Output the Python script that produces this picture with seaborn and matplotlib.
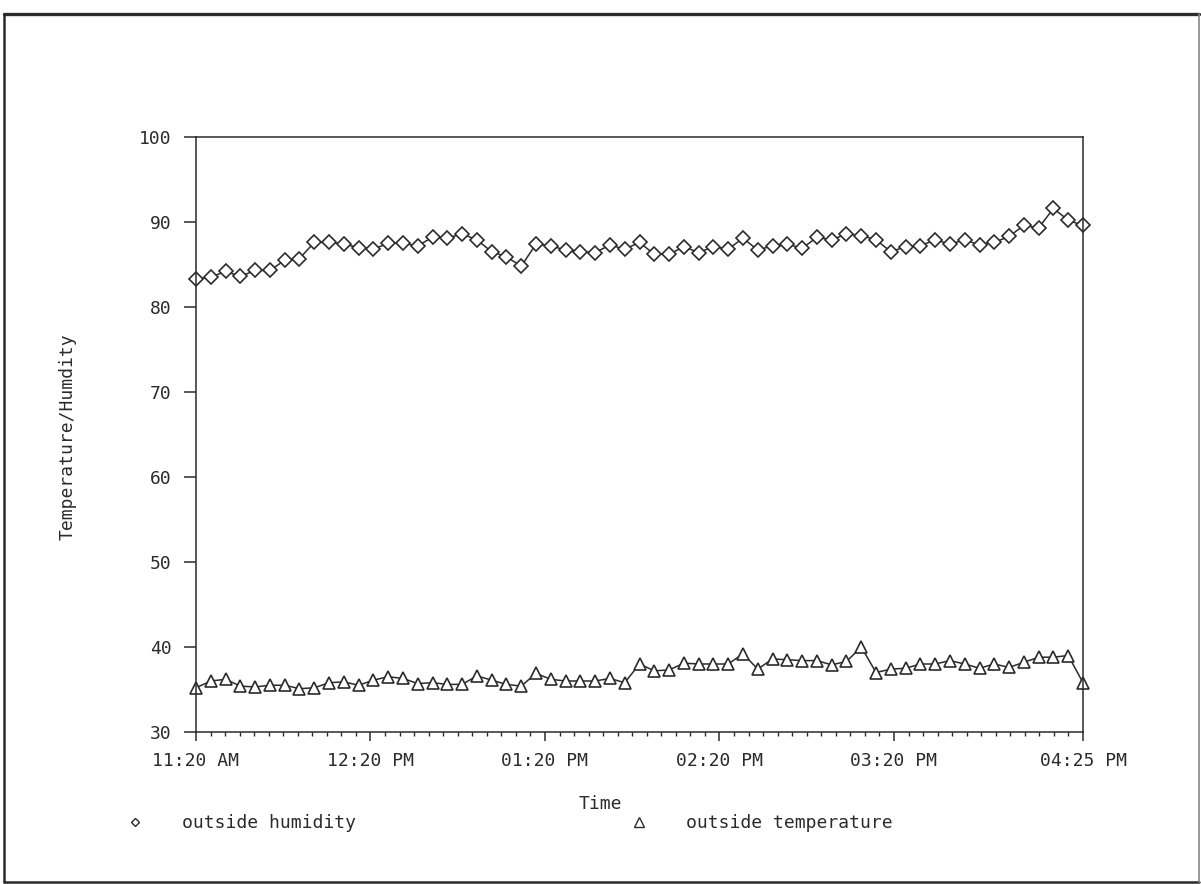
"""
plot.py
Outside humidity / temperature log, 11:20 AM - 04:25 PM.
"""

import matplotlib
matplotlib.use("Agg")
import numpy as np
import pandas as pd
import matplotlib.pyplot as plt
import seaborn as sns
from matplotlib.lines import Line2D
from matplotlib.ticker import FixedLocator

# ── Data ─────────────────────────────────────────────────────────────────────

humidity = [
    83.3, 83.5, 84.2, 83.6, 84.3, 84.3, 85.5, 85.7, 87.6, 87.6,
    87.4, 87.0, 86.8, 87.5, 87.5, 87.2, 88.2, 88.1, 88.6, 87.9,
    86.5, 85.9, 84.8, 87.4, 87.2, 86.7, 86.5, 86.4, 87.3, 86.8,
    87.6, 86.2, 86.2, 87.1, 86.4, 87.1, 86.8, 88.1, 86.7, 87.2,
    87.4, 86.9, 88.2, 87.9, 88.6, 88.4, 87.9, 86.5, 87.1, 87.2,
    87.9, 87.4, 87.9, 87.3, 87.6, 88.3, 89.6, 89.3, 91.6, 90.2, 89.6,
]

temperature = [
    35.2, 36.0, 36.2, 35.4, 35.3, 35.5, 35.5, 35.1, 35.2, 35.8,
    35.9, 35.5, 36.1, 36.5, 36.3, 35.7, 35.8, 35.6, 35.6, 36.6,
    36.1, 35.6, 35.4, 36.9, 36.2, 36.0, 36.0, 36.0, 36.3, 35.8,
    38.0, 37.2, 37.3, 38.1, 38.0, 38.0, 38.0, 39.2, 37.4, 38.6,
    38.5, 38.4, 38.4, 37.9, 38.3, 40.0, 37.0, 37.4, 37.5, 38.0,
    38.0, 38.4, 38.0, 37.5, 38.0, 37.6, 38.2, 38.8, 38.8, 39.0, 35.8,
]

series_names = ["outside humidity", "outside temperature"]

# time axis: minutes after 11:20 AM
span_minutes = 305
tick_minutes = [0, 60, 120, 180, 240, 305]
tick_labels = ["11:20 AM", "12:20 PM", "01:20 PM", "02:20 PM", "03:20 PM", "04:25 PM"]
minor_step = 5

y_ticks = [30, 40, 50, 60, 70, 80, 90, 100]

# ── Frame ────────────────────────────────────────────────────────────────────

n = len(humidity)
df = pd.DataFrame({
    "reading": list(range(n)) * 2,
    "value": humidity + temperature,
    "series": [series_names[0]] * n + [series_names[1]] * n,
})

INK = "#2b2b2b"
W, H = 1201, 884

sns.set_style("white")
plt.rcParams["font.family"] = ["DejaVu Sans Mono", "DejaVu Sans"]
plt.rcParams["text.color"] = INK
plt.rcParams["axes.labelcolor"] = INK

fig = plt.figure(figsize=(W / 100, H / 100), dpi=100)
left, right, top, bottom = 196, 1083, 137, 732
ax = fig.add_axes([left / W, 1 - bottom / H, (right - left) / W, (bottom - top) / H])

sns.lineplot(
    data=df, x="reading", y="value",
    hue="series", style="series",
    palette={s: INK for s in series_names},
    markers={series_names[0]: "D", series_names[1]: "^"},
    dashes=False, linewidth=1.1, legend=False, ax=ax,
)

for line, ms in zip(ax.lines, [7.2, 9.2]):
    line.set_markersize(ms)
    line.set_markerfacecolor("white")
    line.set_markeredgecolor(INK)
    line.set_markeredgewidth(1.2)
    line.set_clip_on(False)

# ── Axes ─────────────────────────────────────────────────────────────────────

to_reading = (n - 1) / span_minutes
ax.set_xlim(0, n - 1)
ax.set_ylim(30, 100)
ax.set_yticks(y_ticks)
ax.xaxis.set_major_locator(FixedLocator([m * to_reading for m in tick_minutes]))
ax.xaxis.set_minor_locator(FixedLocator(
    [m * to_reading for m in range(0, span_minutes + 1, minor_step)]))
ax.set_xticklabels(tick_labels)

ax.tick_params(axis="y", direction="out", length=8.5, width=1.1, pad=9,
               labelsize=13, colors=INK, left=True)
ax.tick_params(axis="x", which="major", direction="out", length=6.5, width=1.1,
               pad=8, labelsize=13, colors=INK, bottom=True)
ax.tick_params(axis="x", which="minor", direction="out", length=3, width=1.0,
               colors=INK, bottom=True)

for sp in ax.spines.values():
    sp.set_color(INK)
    sp.set_linewidth(1.1)

ax.set_xlabel("Time", fontsize=13)
ax.set_ylabel("Temperature/Humdity", fontsize=13)
ax.xaxis.set_label_coords((600 - left) / (right - left), (bottom - 795) / (bottom - top))
ax.yaxis.set_label_coords((68 - left) / (right - left), (bottom - 437) / (bottom - top))
ax.yaxis.label.set_va("center")

# ── Legend ───────────────────────────────────────────────────────────────────

handles = [
    Line2D([], [], linestyle="", marker="D", markersize=4.5, markerfacecolor="white",
           markeredgecolor=INK, markeredgewidth=1.0),
    Line2D([], [], linestyle="", marker="^", markersize=6.5, markerfacecolor="white",
           markeredgecolor=INK, markeredgewidth=1.0),
]
fig.legend(handles, series_names, loc="center left",
           bbox_to_anchor=(126 / W, 1 - 823 / H), ncol=2, frameon=False,
           fontsize=13, handlelength=1.0, handletextpad=2.1,
           columnspacing=15.2, borderpad=0, borderaxespad=0)

# ── Page border ──────────────────────────────────────────────────────────────

bx0, bx1, by0, by1 = 4 / W, 1199 / W, 1 - 14 / H, 1 - 882 / H
fig.add_artist(Line2D([bx0, bx1], [by0, by0], transform=fig.transFigure, color=INK, lw=2.4))
fig.add_artist(Line2D([bx0, bx0], [by0, by1], transform=fig.transFigure, color=INK, lw=1.8))
fig.add_artist(Line2D([bx0, bx1], [by1, by1], transform=fig.transFigure, color=INK, lw=1.8))
fig.add_artist(Line2D([bx1, bx1], [by0, by1], transform=fig.transFigure, color="#888888", lw=1.2))

fig.savefig("out.png", dpi=100)
plt.close(fig)
